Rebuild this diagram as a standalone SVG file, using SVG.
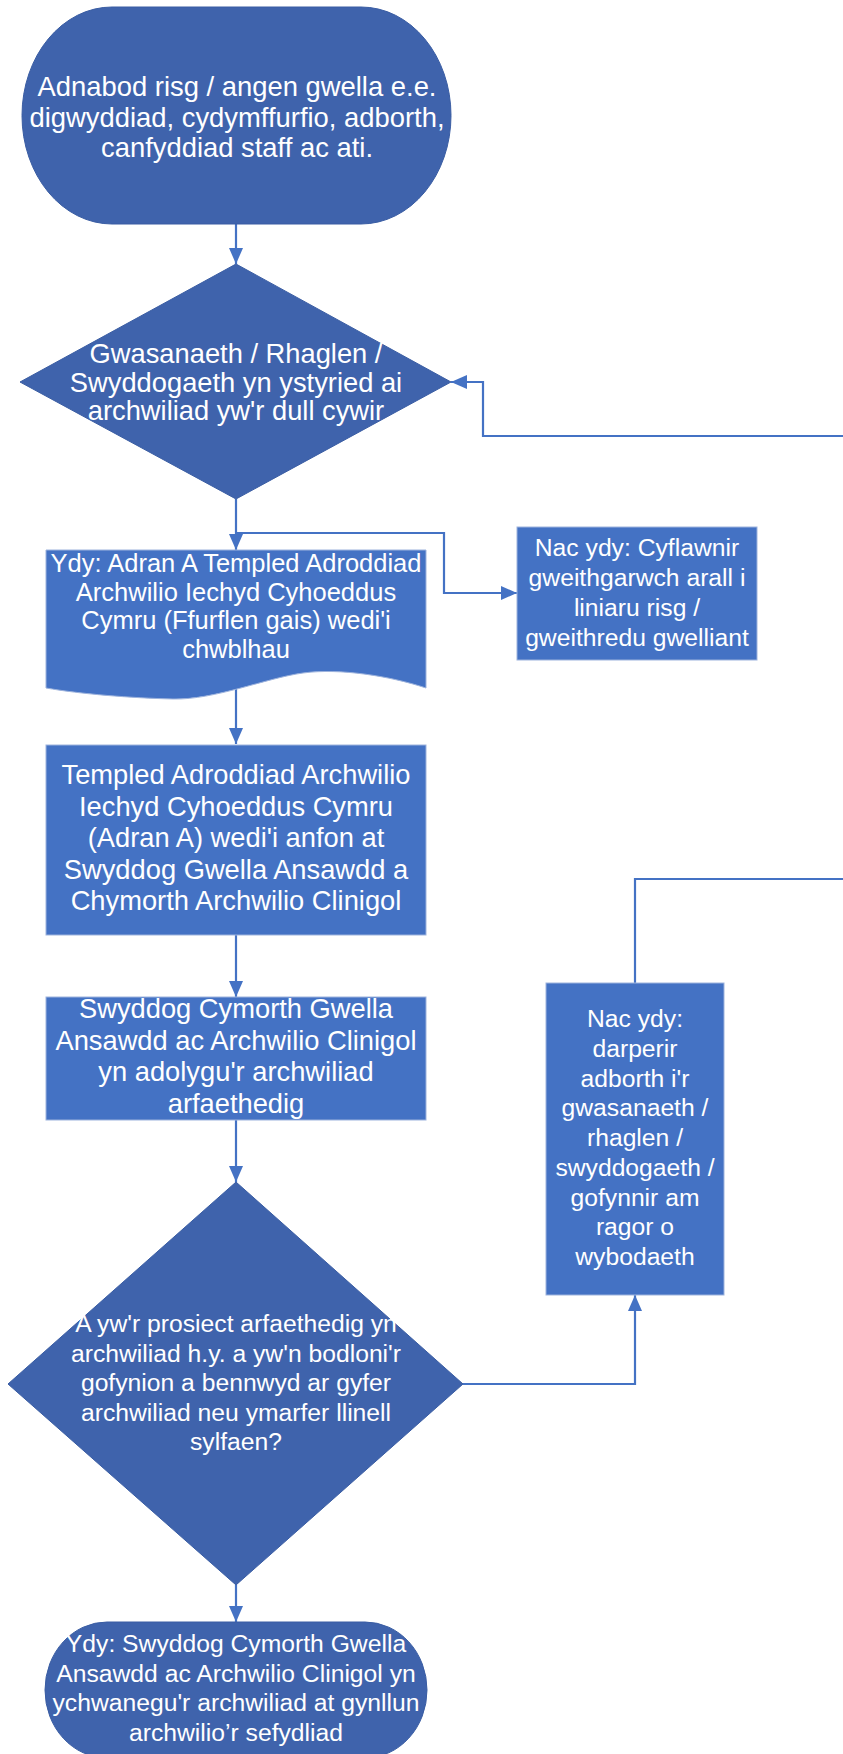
<svg xmlns="http://www.w3.org/2000/svg" width="843" height="1754" viewBox="0 0 843 1754">
  <defs>
    <marker id="arrow" markerUnits="userSpaceOnUse" markerWidth="16" markerHeight="14" refX="16" refY="7" orient="auto">
      <path d="M0,0 L16,7 L0,14 Z" fill="#4472C4"/>
    </marker>
    <style>
      .dark { fill: #3F63AC; stroke: #3A5DA3; stroke-width: 1; }
      .light { fill: #4472C4; stroke: #9DB3DD; stroke-width: 1; }
      .conn { fill: none; stroke: #4472C4; stroke-width: 2.2; }
      .arr { marker-end: url(#arrow); }
      text { font-family: "Liberation Sans", Arial, sans-serif; fill: #FFFFFF; text-anchor: middle; }
      .f28 { font-size: 27.4px; }
      .f27 { font-size: 27.3px; }
      .f26 { font-size: 25.5px; }
      .f25 { font-size: 24.7px; }
    </style>
  </defs>

  <g id="connectors">
    <path class="conn arr" d="M236,224 V264"/>
    <path class="conn arr" d="M843,436 H483 V382 H451"/>
    <path class="conn arr" d="M236,499 V550"/>
    <path class="conn arr" d="M236,533 H444 V593 H517"/>
    <path class="conn arr" d="M236,686 V744"/>
    <path class="conn arr" d="M236,935 V997"/>
    <path class="conn arr" d="M236,1120 V1182"/>
    <path class="conn arr" d="M463,1384 H635 V1295"/>
    <path class="conn" d="M635,983 V879 H843"/>
    <path class="conn arr" d="M236,1585 V1622"/>
  </g>

  <g id="start">
    <rect class="dark" x="22" y="7" width="429" height="217" rx="90" ry="108.5"/>
    <text class="f28" x="237" y="96">Adnabod risg / angen gwella e.e.</text>
    <text class="f28" x="237" y="126.5">digwyddiad, cydymffurfio, adborth,</text>
    <text class="f28" x="237" y="157">canfyddiad staff ac ati.</text>
  </g>

  <g id="decision1">
    <polygon class="dark" points="236,264 451,382 236,499 20,382"/>
    <text class="f27" x="236" y="363">Gwasanaeth / Rhaglen /</text>
    <text class="f27" x="236" y="391.5">Swyddogaeth yn ystyried ai</text>
    <text class="f27" x="236" y="420">archwiliad yw'r dull cywir</text>
  </g>

  <g id="document">
    <path class="light" d="M46,550 H426 V688 C390,676 340,668 303,673 S215,700 173,699 S80,694 46,688 Z"/>
    <text class="f26" x="236" y="572">Ydy: Adran A Templed Adroddiad</text>
    <text class="f26" x="236" y="600.5">Archwilio Iechyd Cyhoeddus</text>
    <text class="f26" x="236" y="629">Cymru (Ffurflen gais) wedi'i</text>
    <text class="f26" x="236" y="657.5">chwblhau</text>
  </g>

  <g id="no1">
    <rect class="light" x="517" y="527" width="240" height="133"/>
    <text class="f25" x="637" y="556">Nac ydy: Cyflawnir</text>
    <text class="f25" x="637" y="586">gweithgarwch arall i</text>
    <text class="f25" x="637" y="616">liniaru risg /</text>
    <text class="f25" x="637" y="646">gweithredu gwelliant</text>
  </g>

  <g id="template">
    <rect class="light" x="46" y="745" width="380" height="190"/>
    <text class="f27" x="236" y="784">Templed Adroddiad Archwilio</text>
    <text class="f27" x="236" y="815.5">Iechyd Cyhoeddus Cymru</text>
    <text class="f27" x="236" y="847">(Adran A) wedi'i anfon at</text>
    <text class="f27" x="236" y="878.5">Swyddog Gwella Ansawdd a</text>
    <text class="f27" x="236" y="910">Chymorth Archwilio Clinigol</text>
  </g>

  <g id="review">
    <rect class="light" x="46" y="997" width="380" height="123"/>
    <text class="f27" x="236" y="1018">Swyddog Cymorth Gwella</text>
    <text class="f27" x="236" y="1049.5">Ansawdd ac Archwilio Clinigol</text>
    <text class="f27" x="236" y="1081">yn adolygu'r archwiliad</text>
    <text class="f27" x="236" y="1112.5">arfaethedig</text>
  </g>

  <g id="no2">
    <rect class="light" x="546" y="983" width="178" height="312"/>
    <text class="f25" x="635" y="1027">Nac ydy:</text>
    <text class="f25" x="635" y="1056.75">darperir</text>
    <text class="f25" x="635" y="1086.5">adborth i'r</text>
    <text class="f25" x="635" y="1116.25">gwasanaeth /</text>
    <text class="f25" x="635" y="1146">rhaglen /</text>
    <text class="f25" x="635" y="1175.75">swyddogaeth /</text>
    <text class="f25" x="635" y="1205.5">gofynnir am</text>
    <text class="f25" x="635" y="1235.25">ragor o</text>
    <text class="f25" x="635" y="1265">wybodaeth</text>
  </g>

  <g id="decision2">
    <polygon class="dark" points="236,1182 463,1384 236,1585 8,1384"/>
    <text class="f25" x="236" y="1332">A yw'r prosiect arfaethedig yn</text>
    <text class="f25" x="236" y="1361.5">archwiliad h.y. a yw'n bodloni'r</text>
    <text class="f25" x="236" y="1391">gofynion a bennwyd ar gyfer</text>
    <text class="f25" x="236" y="1420.5">archwiliad neu ymarfer llinell</text>
    <text class="f25" x="236" y="1450">sylfaen?</text>
  </g>

  <g id="end">
    <rect class="dark" x="45" y="1622" width="382" height="136" rx="62" ry="68"/>
    <text class="f25" x="236" y="1652">Ydy: Swyddog Cymorth Gwella</text>
    <text class="f25" x="236" y="1681.5">Ansawdd ac Archwilio Clinigol yn</text>
    <text class="f25" x="236" y="1711">ychwanegu'r archwiliad at gynllun</text>
    <text class="f25" x="236" y="1740.5">archwilio’r sefydliad</text>
  </g>
</svg>
